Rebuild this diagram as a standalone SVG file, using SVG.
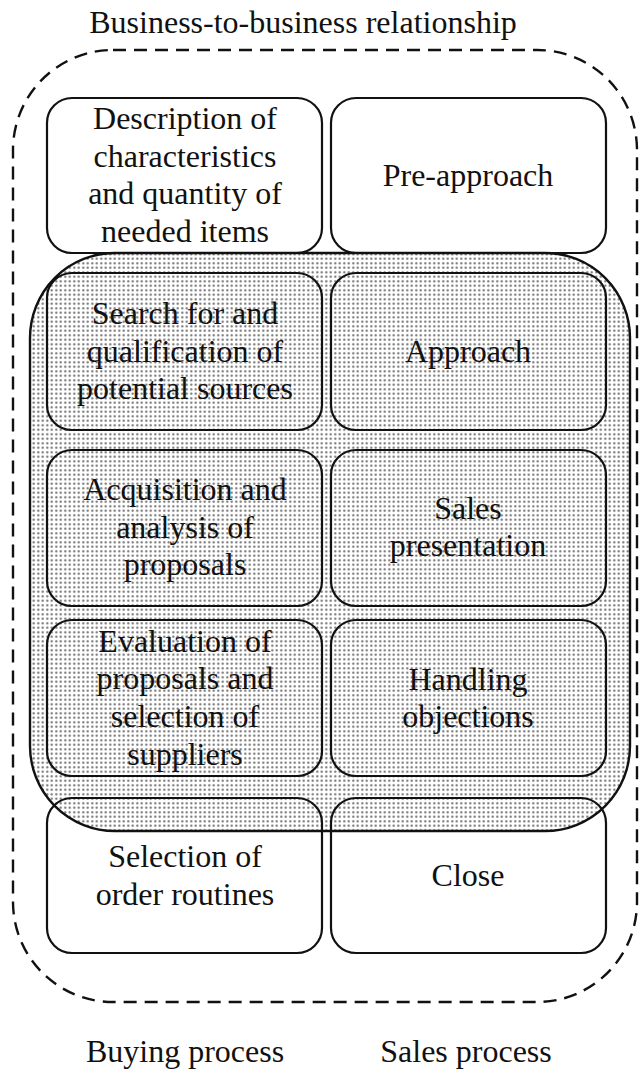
<svg xmlns="http://www.w3.org/2000/svg" width="639" height="1070" viewBox="0 0 639 1070" font-family="'Liberation Serif', 'Times New Roman', 'Nimbus Roman', 'DejaVu Serif', serif">
<style>
text{font-family:'Liberation Serif','Times New Roman','Nimbus Roman','DejaVu Serif',serif;font-size:32px;fill:#111;text-anchor:middle}
.box{fill:none;stroke:#111;stroke-width:2.2}
.outer{fill:none;stroke:#111;stroke-width:2.4;stroke-dasharray:13 8}
.shade{fill:url(#dots);stroke:#111;stroke-width:2.4}
</style>
<defs>
<pattern id="dots" width="4.5" height="4.5" patternUnits="userSpaceOnUse">
<rect width="4.5" height="4.5" fill="#fff"/>
<circle cx="2.25" cy="2.25" r="1.1" fill="#666"/>
</pattern>
</defs>
<rect width="639" height="1070" fill="#fff"/>
<g id="relationship">
<rect class="outer" x="13" y="50" width="624" height="952" rx="100" ry="100"/>
<text x="303" y="33">Business-to-business relationship</text>
</g>
<g id="shaded-area">
<rect class="shade" x="30" y="253" width="600" height="578" rx="85" ry="85"/>
</g>
<g id="buy1"><rect class="box" x="47" y="98" width="275" height="155" rx="25"/>
<text x="185" y="129">Description of</text><text x="185" y="167">characteristics</text><text x="185" y="204">and quantity of</text><text x="185" y="242">needed items</text></g>
<g id="sell1"><rect class="box" x="331" y="98" width="275" height="155" rx="25"/>
<text x="468" y="186">Pre-approach</text></g>
<g id="buy2"><rect class="box" x="47" y="273" width="275" height="157" rx="25"/>
<text x="185" y="324">Search for and</text><text x="185" y="362">qualification of</text><text x="185" y="399">potential sources</text></g>
<g id="sell2"><rect class="box" x="331" y="273" width="275" height="157" rx="25"/>
<text x="468" y="362">Approach</text></g>
<g id="buy3"><rect class="box" x="47" y="450" width="275" height="156" rx="25"/>
<text x="185" y="500">Acquisition and</text><text x="185" y="538">analysis of</text><text x="185" y="575">proposals</text></g>
<g id="sell3"><rect class="box" x="331" y="450" width="275" height="156" rx="25"/>
<text x="468" y="519">Sales</text><text x="468" y="556">presentation</text></g>
<g id="buy4"><rect class="box" x="47" y="620" width="275" height="156" rx="25"/>
<text x="185" y="652">Evaluation of</text><text x="185" y="689">proposals and</text><text x="185" y="727">selection of</text><text x="185" y="765">suppliers</text></g>
<g id="sell4"><rect class="box" x="331" y="620" width="275" height="156" rx="25"/>
<text x="468" y="690">Handling</text><text x="468" y="727">objections</text></g>
<g id="buy5"><rect class="box" x="47" y="798" width="275" height="155" rx="25"/>
<text x="185" y="867">Selection of</text><text x="185" y="905">order routines</text></g>
<g id="sell5"><rect class="box" x="331" y="798" width="275" height="155" rx="25"/>
<text x="468" y="886">Close</text></g>
<g id="labels">
<text x="185" y="1062">Buying process</text>
<text x="466" y="1062">Sales process</text>
</g>
<g id="connectors"></g>
</svg>
